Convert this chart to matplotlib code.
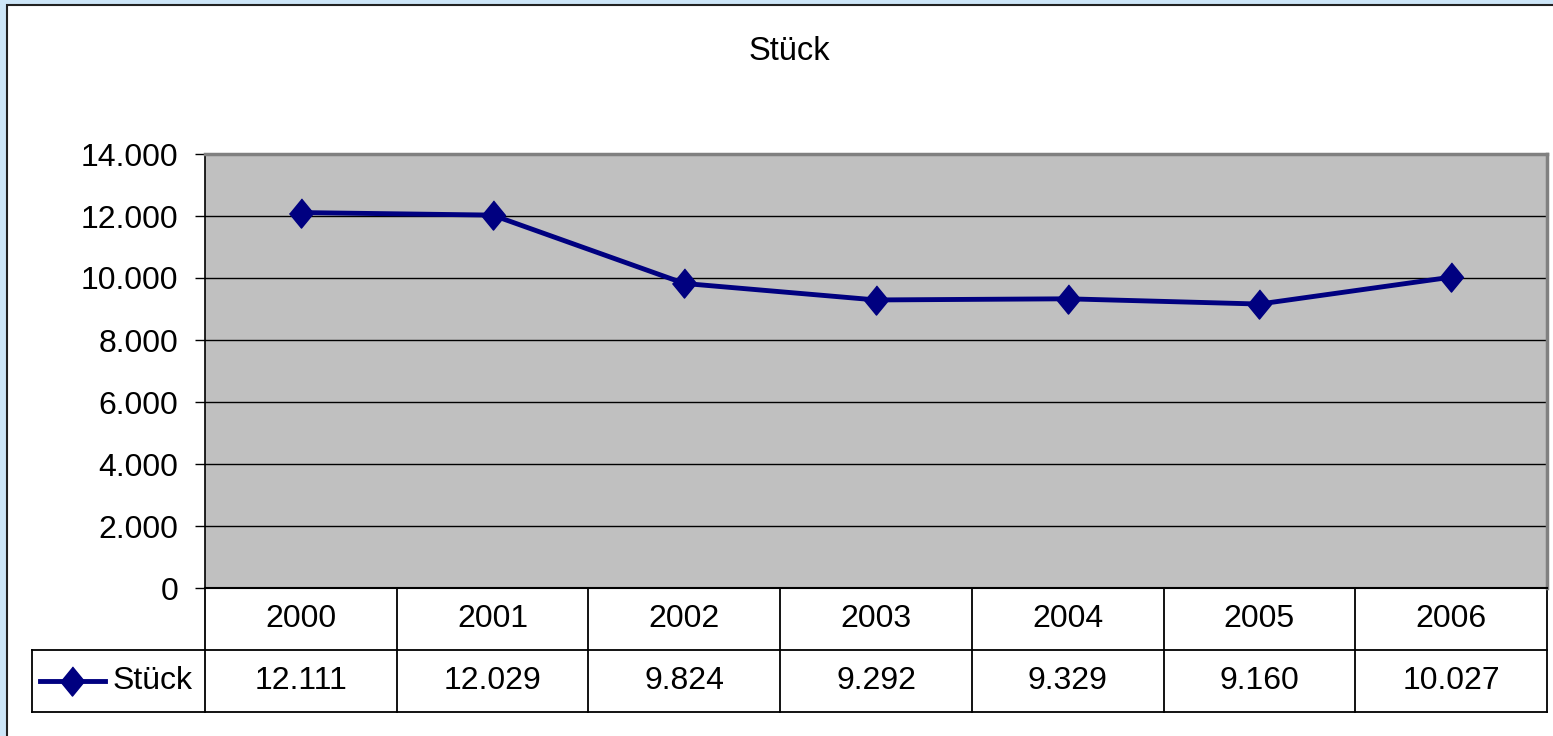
import matplotlib.pyplot as plt
from matplotlib.lines import Line2D
from matplotlib.patches import Rectangle
import matplotlib.transforms as mtransforms

plt.rcParams['font.family'] = ['Liberation Sans', 'DejaVu Sans']

years = ['2000', '2001', '2002', '2003', '2004', '2005', '2006']
stueck = [12111, 12029, 9824, 9292, 9329, 9160, 10027]
series_name = 'Stück'
y_ticks = [0, 2000, 4000, 6000, 8000, 10000, 12000, 14000]

W, H = 1553, 736
FS = 23
fig = plt.figure(figsize=(W / 100, H / 100), dpi=100)
fig.patch.set_facecolor('#cde6f8')

# weisser Rahmen
fig.patches.append(Rectangle((7 / W, -0.01), 1.0, 1.01 - 5 / H, transform=fig.transFigure,
                             facecolor='white', edgecolor='#222222', lw=1.5, zorder=-5))

left, right, top, bottom = 205, 1547, 154, 588
ax = fig.add_axes([left / W, 1 - bottom / H, (right - left) / W, (bottom - top) / H])
ax.set_facecolor('#c0c0c0')

x = list(range(len(years)))
diamond = [(0, 1), (0.82, 0), (0, -1), (-0.82, 0)]
ax.plot(x, stueck, color='#000080', lw=3.5, zorder=3,
        marker=diamond, markersize=21,
        markerfacecolor='#000080', markeredgecolor='#000080')

ax.set_xlim(-0.5, len(years) - 0.5)
ax.set_ylim(0, 14000)
ax.set_yticks(y_ticks)
ax.set_yticklabels([f'{v:,}'.replace(',', '.') for v in y_ticks], fontsize=FS)
ax.tick_params(axis='y', length=7, width=1, color='black', pad=12)
ax.set_xticks([])
for v in y_ticks[1:-1]:
    ax.axhline(v, color='black', lw=1, zorder=1)

for s in ['top', 'right']:
    ax.spines[s].set_color('#808080')
    ax.spines[s].set_linewidth(2.5)
ax.spines['left'].set_color('black')
ax.spines['bottom'].set_color('black')
ax.spines['left'].set_linewidth(1.2)
ax.spines['bottom'].set_linewidth(1.5)

fig.text(789 / W, 1 - 52 / H, series_name, ha='center', va='center', fontsize=23.5)

# Datentabelle unter dem Diagramm
tr = mtransforms.blended_transform_factory(ax.transData, ax.transAxes)
row_h = 62 / (bottom - top)
x0, x1 = -0.5, len(years) - 0.5
leg_x = -0.5 + (32 - left) / ((right - left) / len(years))
kw = dict(transform=tr, clip_on=False, color='black', lw=1.3)

ax.add_line(Line2D([x0, x0], [0, -2 * row_h], **kw))
ax.add_line(Line2D([x1, x1], [0, -2 * row_h], **kw))
for i in range(1, len(years)):
    ax.add_line(Line2D([i - 0.5, i - 0.5], [0, -2 * row_h], **kw))
ax.add_line(Line2D([leg_x, x1], [-row_h, -row_h], **kw))
ax.add_line(Line2D([leg_x, x1], [-2 * row_h, -2 * row_h], **kw))
ax.add_line(Line2D([leg_x, leg_x], [-row_h, -2 * row_h], **kw))

for i, (yr, val) in enumerate(zip(years, stueck)):
    ax.text(i, -0.5 * row_h, yr, transform=tr, ha='center', va='center', fontsize=FS)
    ax.text(i, -1.5 * row_h, f'{val:,}'.replace(',', '.'), transform=tr,
            ha='center', va='center', fontsize=FS)

# Legendensymbol in der Tabelle
sym_x = [leg_x + 0.04, leg_x + 0.38]
ax.add_line(Line2D(sym_x, [-1.5 * row_h] * 2, transform=tr, clip_on=False,
                   color='#000080', lw=3.5))
ax.add_line(Line2D([sum(sym_x) / 2], [-1.5 * row_h], transform=tr, clip_on=False,
                   marker=diamond, markersize=21, color='#000080', lw=0))
ax.text(leg_x + 0.42, -1.5 * row_h, series_name, transform=tr, ha='left', va='center',
        fontsize=FS)

fig.savefig('out.png', dpi=100, facecolor=fig.get_facecolor())
